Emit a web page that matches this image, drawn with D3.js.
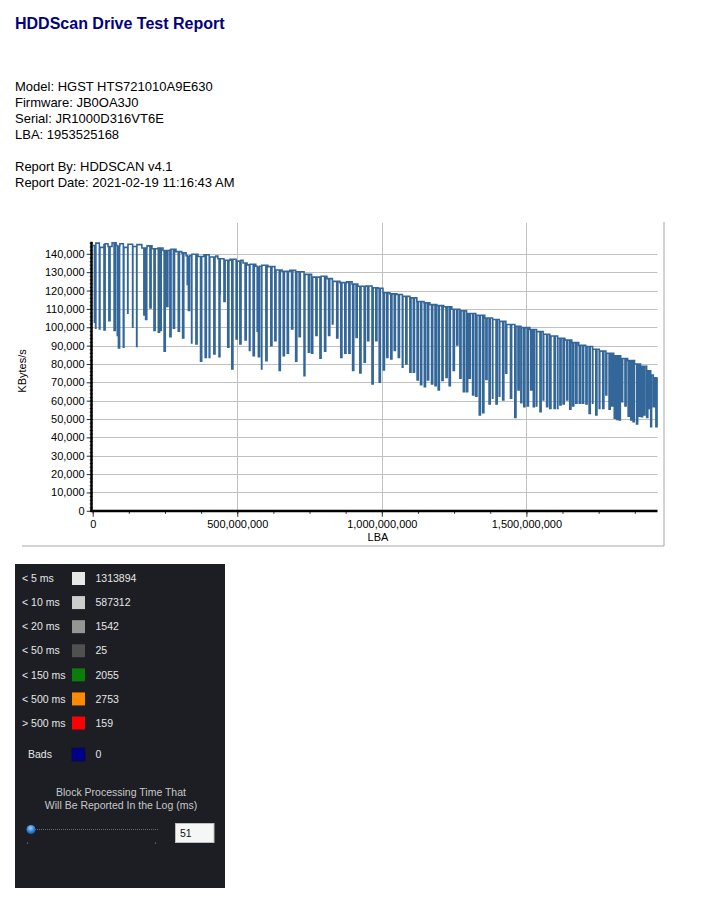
<!DOCTYPE html>
<html>
<head>
<meta charset="utf-8">
<script src="https://cdn.jsdelivr.net/npm/d3@7"></script>
<style>
  body { margin: 0; background: #fff; }
  svg { display: block; }
</style>
</head>
<body>
<svg id="page" width="705" height="903"></svg>
<script>
// header text
const title = "HDDScan Drive Test Report";
const infoLines = [
  "Model: HGST HTS721010A9E630",
  "Firmware: JB0OA3J0",
  "Serial: JR1000D316VT6E",
  "LBA: 1953525168",
  "",
  "Report By: HDDSCAN v4.1",
  "Report Date: 2021-02-19 11:16:43 AM"
];

// axes
const lbaMax = 1953525168;
const yMax = 146600;
const yTickValues = [0, 10000, 20000, 30000, 40000, 50000, 60000, 70000, 80000, 90000, 100000, 110000, 120000, 130000, 140000];
const xTickValues = [0, 500000000, 1000000000, 1500000000];

// upper level of the speed curve (LBA in millions, KBytes/s in thousands)
const envLba = [0, 11, 25, 39, 53, 67, 81, 94, 108, 122, 139, 153, 170, 188, 205, 226, 243, 267, 288, 308,
  323, 343, 364, 385, 405, 426, 433, 454, 475, 496, 509, 520, 534, 544, 564, 585, 606, 630, 655, 682,
  706, 734, 761, 786, 810, 831, 855, 879, 897, 917, 945, 966, 987, 1004, 1028, 1052, 1073, 1097, 1121, 1146,
  1166, 1190, 1214, 1242, 1270, 1297, 1325, 1356, 1384, 1408, 1432, 1460, 1484, 1512, 1536, 1560, 1585, 1609, 1633, 1657,
  1681, 1705, 1730, 1754, 1778, 1802, 1826, 1850, 1874, 1895, 1916, 1933, 1943];
const envVal = [144.5, 145.8, 143.5, 145.5, 144, 146, 144.5, 145.5, 143.5, 145.2, 144, 145, 143.2, 144.3, 142.8, 143.2, 141.8, 142.5, 141.2, 140.5,
  139, 139.8, 138.5, 139.5, 138.3, 138.8, 137.3, 136.5, 137, 136, 136.5, 135, 134, 134.3, 133.2, 133.8, 133, 131.2, 130.5, 131,
  130.2, 128.8, 127.3, 127.8, 126.5, 125, 124.3, 124.8, 123.5, 122.3, 122.5, 121.5, 121.2, 118.8, 118.2, 117.8, 116.8, 116, 114, 113.3,
  112.3, 111.8, 111.2, 109.8, 109, 107.5, 106.5, 105, 104.2, 103.2, 101.5, 100.5, 99.8, 98.8, 97.6, 96.2, 95.2, 94, 93, 91.6,
  90.2, 89.5, 88, 87, 85.8, 84.5, 83, 81.8, 80, 78.7, 76.3, 74, 72.5];

// speed drops (LBA in millions, minimum KBytes/s in thousands)
const dipLba = [6, 10, 23, 39, 56, 74, 85, 89, 106, 121, 138, 152, 177, 183, 198, 212, 227, 233, 247, 256,
  267, 279, 296, 311, 327, 331, 342, 357, 373, 389, 403, 419, 437, 440, 454, 467, 481, 496, 509, 527,
  542, 555, 569, 573, 584, 599, 616, 630, 645, 659, 673, 688, 702, 714, 731, 746, 757, 772, 786, 802,
  816, 829, 844, 858, 872, 886, 899, 911, 924, 939, 951, 966, 979, 991, 1005, 1017, 1031, 1043, 1057, 1071,
  1083, 1097, 1109, 1122, 1134, 1147, 1158, 1172, 1184, 1195, 1208, 1222, 1233, 1247, 1259, 1270, 1282, 1293, 1302, 1314,
  1325, 1337, 1349, 1360, 1371, 1383, 1395, 1406, 1418, 1429, 1445, 1460, 1471, 1481, 1491, 1503, 1515, 1524, 1535, 1547,
  1558, 1570, 1581, 1596, 1608, 1616, 1627, 1639, 1650, 1660, 1671, 1683, 1694, 1706, 1717, 1729, 1740, 1752, 1764, 1775,
  1786, 1795, 1804, 1812, 1821, 1829, 1841, 1852, 1861, 1869, 1881, 1889, 1898, 1906, 1916, 1923, 1930, 1939, 1948];
const dipVal = [102.7, 99.5, 99.1, 98.5, 103.6, 98.2, 95.5, 88.7, 89.1, 107.6, 100, 89.5, 106.7, 104.2, 110.5, 98.2, 97.3, 98.2, 86.9, 111.3,
  94.9, 99.5, 97.8, 94.2, 123.3, 109.1, 91.5, 90.9, 81.5, 83.6, 83.6, 85.5, 84, 118.2, 114, 89.1, 77.3, 93.6, 90.9, 93.1,
  87.3, 84.5, 97.8, 84, 77.3, 81.8, 90, 92.7, 76.4, 84.5, 85.8, 99.1, 81.5, 94.9, 73.6, 86.4, 85.8, 95.5, 83.1, 86.9,
  95.5, 101.8, 94.2, 83.6, 85.8, 85.8, 76.4, 94.5, 75.1, 80.9, 92.7, 69.1, 92.7, 70, 76.7, 83.6, 82.7, 87.3, 83.6, 78.2,
  80, 75.5, 75.5, 71.3, 68.7, 67.6, 71.3, 69.1, 68.2, 65.8, 71, 72.7, 68.2, 76.4, 90.4, 72.2, 64.9, 64.9, 72.2, 63.1,
  62.5, 52.2, 53.5, 71.6, 58.2, 61.3, 58.2, 62.5, 60.4, 74.9, 61.3, 50.9, 65.8, 58.9, 56.7, 57.1, 65.8, 56.7, 57.1, 54,
  60.4, 56.7, 55.8, 55.8, 55.8, 57.6, 58.2, 60.4, 55.3, 57.1, 58.6, 58.6, 58.6, 58.2, 53.1, 58.6, 52.2, 55.8, 55.8, 63.1,
  55.3, 57.1, 50.4, 49.8, 49.5, 59.5, 57.1, 51.6, 49.5, 48.6, 47.3, 51.6, 51.3, 52.2, 50.9, 55.8, 45.8, 56.7, 45.8];
const dipWidth = 4; // millions of LBA a drop lasts

// block time legend
const legendLabels = ["< 5 ms", "< 10 ms", "< 20 ms", "< 50 ms", "< 150 ms", "< 500 ms", "> 500 ms"];
const legendCounts = [1313894, 587312, 1542, 25, 2055, 2753, 159];
const legendColors = ["#e8e8e8", "#cdcdcd", "#959595", "#505050", "#0b7d0b", "#ff8a00", "#ff0000"];
const badsCount = 0;
const reportThreshold = 51;

const svg = d3.select("#page");
const font = "'Liberation Sans', Arial, sans-serif";

svg.append("text")
  .attr("x", 15).attr("y", 29)
  .attr("font-family", font).attr("font-size", 16).attr("font-weight", "bold")
  .attr("fill", "#000080")
  .text(title);

svg.selectAll("text.info")
  .data(infoLines)
  .enter().append("text")
  .attr("class", "info")
  .attr("x", 15)
  .attr("y", (d, i) => 90.5 + i * 16)
  .attr("font-family", font).attr("font-size", 13)
  .attr("fill", "#000")
  .text(d => d);

// chart frame (right and bottom edges only)
svg.append("path")
  .attr("d", "M664,222V546H22")
  .attr("fill", "none").attr("stroke", "#a8a8a8").attr("stroke-width", 1);

const x = d3.scaleLinear().domain([0, lbaMax]).range([92.7, 657.5]);
const y = d3.scaleLinear().domain([0, yMax]).range([510.8, 241.7]);

// grid
svg.append("g").selectAll("line")
  .data(yTickValues.filter(d => d > 0))
  .enter().append("line")
  .attr("x1", x(0)).attr("x2", x(lbaMax))
  .attr("y1", d => Math.round(y(d)) + 0.5).attr("y2", d => Math.round(y(d)) + 0.5)
  .attr("stroke", "#c0c0c0");

svg.append("g").selectAll("line")
  .data(xTickValues.filter(d => d > 0))
  .enter().append("line")
  .attr("x1", d => Math.round(x(d)) + 0.5).attr("x2", d => Math.round(x(d)) + 0.5)
  .attr("y1", 223).attr("y2", y(0))
  .attr("stroke", "#c0c0c0");

// speed curve
const points = envLba.map((l, i) => ({ lba: l * 1e6, v: envVal[i] * 1000 }));
function levelAt(l) {
  let v = envVal[0];
  envLba.forEach((e, i) => { if (e <= l) v = envVal[i]; });
  return v;
}
dipLba.forEach((l, i) => {
  points.push({ lba: l * 1e6, v: dipVal[i] * 1000 });
  points.push({ lba: (l + dipWidth) * 1e6, v: levelAt(l + dipWidth) * 1000 });
});
points.push({ lba: lbaMax, v: envVal[envVal.length - 1] * 1000 });
points.sort((a, b) => a.lba - b.lba);

const line = d3.line()
  .x(d => x(d.lba))
  .y(d => y(d.v))
  .curve(d3.curveStepAfter);

svg.append("path")
  .datum(points)
  .attr("d", line)
  .attr("fill", "none")
  .attr("stroke", "#336699")
  .attr("stroke-width", 1.6);

// axes
const yAxisMinor = d3.axisLeft(y).tickValues(d3.range(0, yMax, 2000)).tickSize(3).tickFormat("");
const yAxis = d3.axisLeft(y).tickValues(yTickValues).tickFormat(d3.format(",")).tickSize(6).tickPadding(2);
const xAxisMinor = d3.axisBottom(x).tickValues(d3.range(0, lbaMax, 125000000)).tickSize(3).tickFormat("");
const xAxis = d3.axisBottom(x).tickValues(xTickValues).tickFormat(d3.format(",")).tickSize(6).tickPadding(3);

function styleAxis(g) {
  g.select(".domain").remove();
  g.attr("font-family", font).attr("font-size", 11);
  g.selectAll("line").attr("stroke", "#333");
  g.selectAll("text").attr("fill", "#000");
}

svg.append("g").attr("transform", "translate(92.7,0)").call(yAxisMinor).call(styleAxis);
svg.append("g").attr("transform", "translate(92.7,0)").call(yAxis).call(styleAxis);
svg.append("g").attr("transform", "translate(0,510.8)").call(xAxisMinor).call(styleAxis);
svg.append("g").attr("transform", "translate(0,510.8)").call(xAxis).call(styleAxis);

svg.append("line")
  .attr("x1", 91.5).attr("x2", 91.5).attr("y1", y(yMax)).attr("y2", 512)
  .attr("stroke", "#000").attr("stroke-width", 2.5);
svg.append("line")
  .attr("x1", 90.5).attr("x2", x(lbaMax)).attr("y1", 511).attr("y2", 511)
  .attr("stroke", "#000").attr("stroke-width", 2.5);

svg.append("text")
  .attr("transform", "translate(26,371) rotate(-90)")
  .attr("text-anchor", "middle")
  .attr("font-family", font).attr("font-size", 11)
  .text("KBytes/s");

svg.append("text")
  .attr("x", 378).attr("y", 541)
  .attr("text-anchor", "middle")
  .attr("font-family", font).attr("font-size", 11)
  .text("LBA");

// block time panel
const panel = svg.append("g");
panel.append("rect")
  .attr("x", 15).attr("y", 564).attr("width", 210).attr("height", 324)
  .attr("fill", "#1c1e23");

const rowY = d3.scalePoint().domain(legendLabels).range([578.5, 723]);
const pfont = "'Liberation Sans', Tahoma, sans-serif";

const rows = panel.selectAll("g.row")
  .data(legendLabels)
  .enter().append("g")
  .attr("class", "row")
  .attr("transform", d => `translate(0,${rowY(d)})`);

rows.append("text")
  .attr("x", 22).attr("dy", "0.35em")
  .attr("font-family", pfont).attr("font-size", 10.5)
  .attr("fill", "#e6e6e6")
  .text(d => d);
rows.append("rect")
  .attr("x", 72).attr("y", -6.5).attr("width", 13).attr("height", 13)
  .attr("fill", (d, i) => legendColors[i]);
rows.append("text")
  .attr("x", 95.5).attr("dy", "0.35em")
  .attr("font-family", pfont).attr("font-size", 10.5)
  .attr("fill", "#e6e6e6")
  .text((d, i) => legendCounts[i]);

const bads = panel.append("g").attr("transform", "translate(0,754.5)");
bads.append("text").attr("x", 28).attr("dy", "0.35em")
  .attr("font-family", pfont).attr("font-size", 10.5).attr("fill", "#e6e6e6").text("Bads");
bads.append("rect").attr("x", 72).attr("y", -6.5).attr("width", 13).attr("height", 13)
  .attr("fill", "#00008b").attr("stroke", "#0a0a40");
bads.append("text").attr("x", 95.5).attr("dy", "0.35em")
  .attr("font-family", pfont).attr("font-size", 10.5).attr("fill", "#e6e6e6").text(badsCount);

panel.selectAll("text.note")
  .data(["Block Processing Time That", "Will Be Reported In the Log (ms)"])
  .enter().append("text")
  .attr("class", "note")
  .attr("x", 121).attr("y", (d, i) => 795.5 + i * 13)
  .attr("text-anchor", "middle")
  .attr("font-family", pfont).attr("font-size", 10.5)
  .attr("fill", "#c8c8c8")
  .text(d => d);

// slider
panel.append("line")
  .attr("x1", 33).attr("x2", 159).attr("y1", 829.5).attr("y2", 829.5)
  .attr("stroke", "#6a6a6a").attr("stroke-dasharray", "1,1");
panel.selectAll("circle.dot")
  .data([27.5, 155.5])
  .enter().append("circle")
  .attr("class", "dot")
  .attr("cx", d => d).attr("cy", 843).attr("r", 0.6)
  .attr("fill", "#9a9a9a");
const grad = svg.append("defs").append("radialGradient")
  .attr("id", "knob").attr("cx", "45%").attr("cy", "35%").attr("r", "70%");
grad.append("stop").attr("offset", "0%").attr("stop-color", "#9fd0ff");
grad.append("stop").attr("offset", "60%").attr("stop-color", "#2f7fd6");
grad.append("stop").attr("offset", "100%").attr("stop-color", "#1a4f96");
panel.append("circle")
  .attr("cx", 31).attr("cy", 829.5).attr("r", 4.5)
  .attr("fill", "url(#knob)");

panel.append("rect")
  .attr("x", 175.5).attr("y", 823.5).attr("width", 38.5).attr("height", 19)
  .attr("fill", "#f6f6f6").attr("stroke", "#bdbdbd");
panel.append("text")
  .attr("x", 180).attr("y", 837)
  .attr("font-family", pfont).attr("font-size", 10.5)
  .attr("fill", "#111")
  .text(reportThreshold);
</script>
</body>
</html>
